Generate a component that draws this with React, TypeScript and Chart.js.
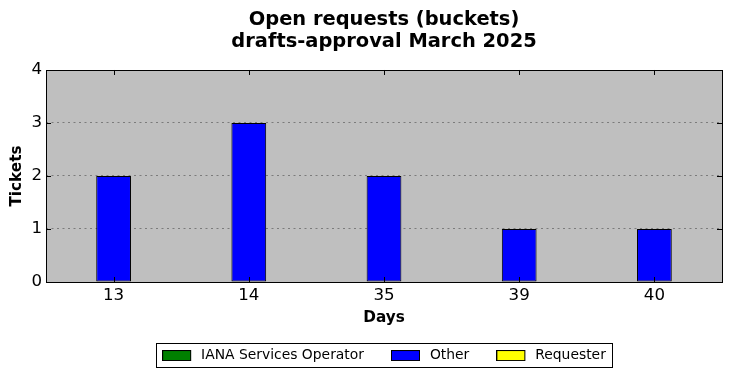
import React, { useEffect, useRef } from 'react';
import { Chart, registerables } from 'chart.js';

Chart.register(...registerables);

const categories = ['13', '14', '35', '39', '40'];
const ianaValues = [0, 0, 0, 0, 0];
const otherValues = [2, 3, 2, 1, 1];
const requesterValues = [0, 0, 0, 0, 0];
const yTicks = [0, 1, 2, 3, 4];
const titleLines = ['Open requests (buckets)', 'drafts-approval March 2025'];
const seriesNames = ['IANA Services Operator', 'Other', 'Requester'];
const seriesColors = ['#008000', '#0000ff', '#ffff00'];
const xTitle = 'Days';
const yTitle = 'Tickets';

const FONT = "'DejaVu Sans', sans-serif";

function makeSwatch(color: string): HTMLCanvasElement {
  const c = document.createElement('canvas');
  c.width = 32;
  c.height = 11;
  const g = c.getContext('2d')!;
  g.fillStyle = color;
  g.fillRect(0.5, 0.5, 28, 10);
  g.strokeStyle = '#000';
  g.lineWidth = 1;
  g.strokeRect(0.5, 0.5, 28, 10);
  return c;
}

const framePlugin = {
  id: 'mplFrame',
  beforeDraw(chart: any) {
    const { ctx, chartArea } = chart;
    const { left, top, right, bottom } = chartArea;
    ctx.save();
    ctx.fillStyle = '#bfbfbf';
    ctx.fillRect(left, top, right - left, bottom - top);
    ctx.restore();
  },
  afterDatasetsDraw(chart: any) {
    const { ctx, chartArea } = chart;
    const { left, top, right, bottom } = chartArea;
    const xs = chart.scales.x;
    const ys = chart.scales.y;
    ctx.save();
    ctx.strokeStyle = '#000';
    ctx.lineWidth = 1;
    ctx.beginPath();
    const tl = 5;
    xs.ticks.forEach((_t: any, i: number) => {
      const px = Math.round(xs.getPixelForTick(i)) + 0.5;
      ctx.moveTo(px, bottom);
      ctx.lineTo(px, bottom - tl);
      ctx.moveTo(px, top);
      ctx.lineTo(px, top + tl);
    });
    ys.ticks.forEach((t: any) => {
      const py = Math.round(ys.getPixelForValue(t.value)) + 0.5;
      ctx.moveTo(left, py);
      ctx.lineTo(left + tl, py);
      ctx.moveTo(right, py);
      ctx.lineTo(right - tl, py);
    });
    ctx.stroke();
    ctx.strokeRect(Math.round(left) + 0.5, Math.round(top) + 0.5, Math.round(right - left), Math.round(bottom - top));
    ctx.restore();
  },
  afterDraw(chart: any) {
    const lg = chart.legend;
    if (!lg || !lg.legendHitBoxes || !lg.legendHitBoxes.length) return;
    const hb = lg.legendHitBoxes;
    const first = hb[0];
    const last = hb[hb.length - 1];
    const x0 = Math.round(first.left - 6) + 0.5;
    const x1 = Math.round(last.left + last.width + 6) + 0.5;
    const y0 = Math.round(first.top - 6) + 0.5;
    const y1 = Math.round(first.top + first.height + 5) + 0.5;
    const { ctx } = chart;
    ctx.save();
    ctx.strokeStyle = '#000';
    ctx.lineWidth = 1;
    ctx.strokeRect(x0, y0, x1 - x0, y1 - y0);
    ctx.restore();
  },
};

export default function App() {
  const ref = useRef<HTMLCanvasElement | null>(null);

  useEffect(() => {
    const canvas = ref.current;
    if (!canvas) return;
    const swatches = seriesColors.map(makeSwatch);
    const mk = (i: number, data: number[]) => ({
      label: seriesNames[i],
      data,
      backgroundColor: seriesColors[i],
      borderColor: '#000',
      borderWidth: 1,
      borderSkipped: false,
    });
    const yMin = yTicks[0];
    const yMax = yTicks[yTicks.length - 1];
    const chart = new Chart(canvas, {
      type: 'bar',
      data: {
        labels: categories,
        datasets: [mk(0, ianaValues), mk(1, otherValues), mk(2, requesterValues)] as any,
      },
      options: {
        responsive: false,
        animation: false,
        devicePixelRatio: 1,
        layout: { padding: { left: 0, right: 10, top: 0, bottom: 5.55 } },
        datasets: { bar: { barPercentage: 0.257, categoryPercentage: 1 } },
        scales: {
          x: {
            stacked: true,
            offset: true,
            grid: { display: false, drawTicks: false },
            border: { display: false },
            ticks: { color: '#000', font: { family: FONT, size: 16.67 }, padding: 3.5, maxRotation: 0 },
            title: {
              display: true,
              text: xTitle,
              color: '#000',
              font: { family: FONT, size: 15.28, weight: 'bold' },
              padding: { top: 0, bottom: -5.3 },
            },
            afterFit: (s: any) => {
              s.height = 39.56;
            },
          } as any,
          y: {
            stacked: true,
            min: yMin,
            max: yMax,
            afterBuildTicks: (s: any) => {
              s.ticks = yTicks.map((v) => ({ value: v }));
            },
            grid: {
              color: (c: any) =>
                c.tick && (c.tick.value === yMin || c.tick.value === yMax) ? 'rgba(0,0,0,0)' : 'rgba(0,0,0,0.45)',
              lineWidth: 0.8,
              drawTicks: false,
            },
            border: { display: false, dash: [2, 3.5] },
            ticks: { color: '#000', font: { family: FONT, size: 16.67 }, padding: 4 },
            title: {
              display: true,
              text: yTitle,
              color: '#000',
              font: { family: FONT, size: 15.28, weight: 'bold' },
              padding: { top: 7.5, bottom: 0 },
            },
            afterFit: (s: any) => {
              s.width = 46;
            },
          } as any,
        },
        plugins: {
          title: {
            display: true,
            text: titleLines,
            color: '#000',
            fullSize: false,
            font: { family: FONT, size: 19.44, weight: 'bold', lineHeight: 1.13 },
            padding: { top: 9.2, bottom: 16.86 },
          },
          legend: {
            display: true,
            position: 'bottom',
            fullSize: false,
            labels: {
              usePointStyle: true,
              pointStyleWidth: 32,
              boxHeight: 10,
              padding: 27,
              color: '#000',
              font: { family: FONT, size: 13.89 },
              generateLabels: (ch: any) => {
                const items = (Chart.defaults.plugins.legend.labels as any).generateLabels(ch);
                return items.map((it: any, i: number) => ({ ...it, pointStyle: swatches[i] }));
              },
            },
          },
          tooltip: { enabled: false },
        },
      } as any,
      plugins: [framePlugin],
    });
    return () => chart.destroy();
  }, []);

  return (
    <div style={{ position: 'absolute', left: 0, top: 0, width: 732, height: 378, background: '#fff' }}>
      <canvas ref={ref} width={732} height={378} style={{ display: 'block' }} />
    </div>
  );
}
